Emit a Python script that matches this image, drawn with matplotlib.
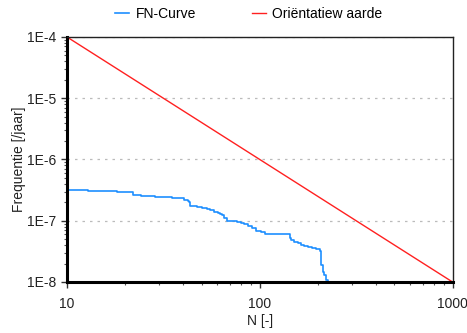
import matplotlib.pyplot as plt
import numpy as np

plt.rcParams['font.family'] = ['Liberation Sans', 'DejaVu Sans']

# FN curve (step data)
fn_n = [10, 12.9, 18.2, 22, 24.2, 28.7, 35, 40.4, 42.3, 42.8, 43.2, 43.7, 47.3,
        50.0, 53.4, 55.5, 57.8, 60.5, 62.0, 63.9, 65.5, 67.9, 72.0, 76.6, 80.0,
        82.9, 87.0, 91.6, 96.0, 101, 107, 142, 143.5, 145, 151, 157, 164, 170,
        177, 186, 196, 206, 207, 208, 212, 216, 221, 225]
fn_f = [3.14e-7, 3.06e-7, 2.91e-7, 2.63e-7, 2.53e-7, 2.41e-7, 2.32e-7, 2.18e-7,
        2.10e-7, 2.05e-7, 1.85e-7, 1.74e-7, 1.66e-7, 1.60e-7, 1.54e-7, 1.48e-7,
        1.41e-7, 1.34e-7, 1.29e-7, 1.24e-7, 1.10e-7, 1.0e-7, 9.8e-8, 9.66e-8,
        9.2e-8, 8.85e-8, 8.1e-8, 7.53e-8, 6.9e-8, 6.48e-8, 6.08e-8, 6.08e-8,
        5.3e-8, 4.85e-8, 4.55e-8, 4.25e-8, 4.02e-8, 3.85e-8, 3.68e-8, 3.55e-8,
        3.42e-8, 3.25e-8, 2.07e-8, 1.9e-8, 1.47e-8, 1.3e-8, 1.08e-8, 1.0e-8]

# orientation value line
ov_n = [10, 1000]
ov_f = [1e-4, 1e-8]

fig = plt.figure(figsize=(4.67, 3.33), dpi=100)
ax = fig.add_axes([0.1435, 0.1532, 0.8255, 0.7357])

ax.plot(fn_n, fn_f, color='#1e8fff', lw=1.2, drawstyle='steps-post', label='FN-Curve')
ax.plot(ov_n, ov_f, color='#ff2020', lw=1.0, label='Oriëntatiew aarde')

ax.set_xscale('log')
ax.set_yscale('log')
ax.set_xlim(10, 1000)
ax.set_ylim(1e-8, 1e-4)

ax.set_yticks([1e-8, 1e-7, 1e-6, 1e-5, 1e-4])
ax.set_yticklabels(['1E-8', '1E-7', '1E-6', '1E-5', '1E-4'])
ax.set_xticks([10, 100, 1000])
ax.set_xticklabels(['10', '100', '1000'])

ax.tick_params(axis='both', which='major', labelsize=10, colors='#333333', labelcolor='#222222',
               length=4, width=1, direction='out')
ax.tick_params(axis='y', which='major', pad=4)
ax.tick_params(axis='x', which='major', pad=7)
ax.tick_params(axis='both', which='minor', length=2.5, width=0.8, colors='#555555', direction='out')

ax.grid(axis='y', which='major', color='#bbbbbb', linestyle=(0, (2, 4)), lw=0.9)

for s in ['left', 'bottom']:
    ax.spines[s].set_linewidth(2.2)
    ax.spines[s].set_color('black')
for s in ['top', 'right']:
    ax.spines[s].set_linewidth(1.0)
    ax.spines[s].set_color('#222222')

ax.set_xlabel('N [-]', fontsize=10, color='#222222', labelpad=2)
ax.set_ylabel('Frequentie [/jaar]', fontsize=10, color='#222222', labelpad=0.5)

fig.legend(loc='upper left', bbox_to_anchor=(0.246, 0.979), ncol=2, frameon=False,
           fontsize=10, handlelength=1.0, columnspacing=4.0, handletextpad=0.5,
           borderpad=0, borderaxespad=0)

fig.savefig('out.png', dpi=100)
